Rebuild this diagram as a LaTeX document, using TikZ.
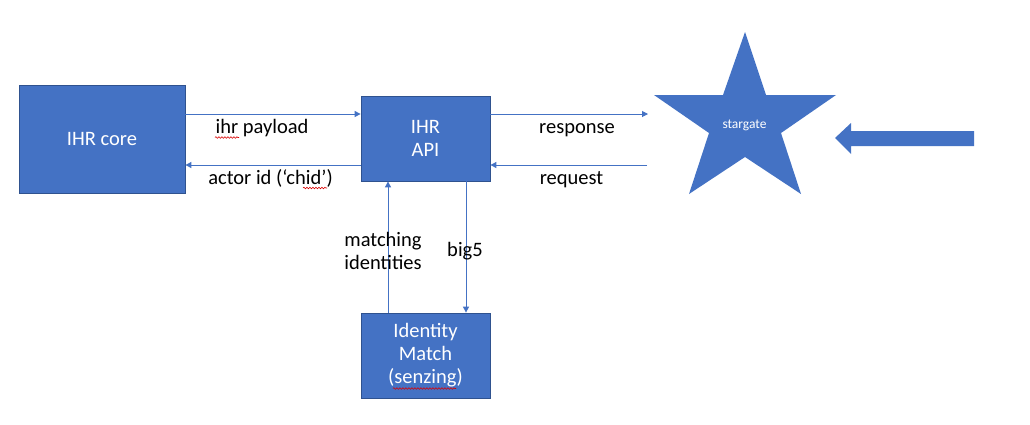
\documentclass[tikz,border=0pt]{standalone}
\usepackage{fontspec}
\setmainfont{Carlito}
\usetikzlibrary{arrows.meta,decorations.pathmorphing}
\definecolor{ofblue}{HTML}{4472C4}
\definecolor{ofedge}{HTML}{2F528F}
\begin{document}
\begin{tikzpicture}[x=1pt,y=-1pt,
  box/.style={draw=ofedge,line width=0.8pt,fill=ofblue,text=white,
    font=\fontsize{20.5}{23}\selectfont,align=center,inner sep=0pt},
  conn/.style={draw=ofblue,line width=1pt,-{Triangle[length=6pt,width=6pt]}},
  lbl/.style={font=\fontsize{20.5}{23}\selectfont,text=black,inner sep=0pt},
  shape blue/.style={fill=ofblue},
  squig/.style={draw=red!85!black,line width=0.6pt,decorate,
    decoration={snake,amplitude=0.8pt,segment length=3pt}}]
\useasboundingbox[fill=white] (0,0) rectangle (1030,424);

% boxes
\node[box,minimum width=166pt,minimum height=108pt] (core) at (102,139) {IHR core};
\node[box,minimum width=129pt,minimum height=85pt] (api) at (425.5,138.5) {IHR\\API};
\node[box,minimum width=129pt,minimum height=85pt] (idm) at (425.5,355.5) {Identity\\Match\\(senzing)};

% star
\fill[shape blue] (745,32) -- (766,95) -- (836,95) -- (781,133) -- (801,194)
  -- (745,157) -- (689,194) -- (709,133) -- (654,95) -- (723,95) -- cycle;
\node[text=white,font=\fontsize{13.5}{15}\selectfont,inner sep=0pt,anchor=base] (star) at (744.5,128) {stargate};

% block arrow
\fill[shape blue] (835,138) -- (851,123) -- (851,131) -- (974,131) -- (974,146)
  -- (851,146) -- (851,154) -- cycle;

% free ends near the star
\coordinate (resp) at (648,114);
\coordinate (req) at (647,165);

% connectors
\draw[conn] ([yshift=25pt]core.east) -- ([yshift=24.5pt]api.west);
\draw[conn] ([yshift=-26.5pt]api.west) -- ([yshift=-26pt]core.east);
\draw[conn] ([yshift=24.5pt]api.east) -- (resp);
\draw[conn] (req) -- (api.east |- req);
\draw[conn] ([xshift=-37.5pt]idm.north) -- ([xshift=-37.5pt]api.south);
\draw[conn] ([xshift=40.5pt]api.south) -- ([xshift=40.5pt]idm.north);

% labels
\node[lbl,anchor=base] (l1) at (262,133) {ihr payload};
\node[lbl,anchor=base] (l2) at (270.5,184) {actor id (‘chid’)};
\node[lbl,anchor=base] (l3) at (577,133) {response};
\node[lbl,anchor=base] (l4) at (571.5,184) {request};
\node[lbl,align=center] (l5) at (383,251) {matching\\identities};
\node[lbl,anchor=base] (l6) at (465,256) {big5};

% spell-check underlines
\draw[squig] (215,137.5) -- (239,137.5);
\draw[squig] (303,188) -- (327,188);
\draw[squig] (393,388.5) -- (456,388.5);
\end{tikzpicture}
\end{document}
